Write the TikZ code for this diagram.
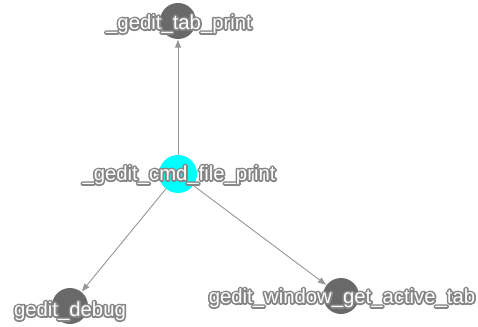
\documentclass[tikz,border=0pt]{standalone}
\usepackage{fontspec}
\setmainfont{Liberation Sans}
\usetikzlibrary{arrows.meta}
\definecolor{edgegray}{RGB}{150,150,150}
\definecolor{nodegray}{RGB}{105,105,105}
\definecolor{aqua}{RGB}{0,255,255}
\tikzset{
  vert/.style={circle, minimum size=36pt, inner sep=0pt, fill=nodegray},
  focus/.style={circle, minimum size=38pt, inner sep=0pt, fill=aqua},
  lbl/.style={font=\fontsize{20.3}{20}\selectfont, inner sep=0pt, text=white},
  conn/.style={draw=edgegray, line width=0.9pt, -{Triangle[length=8pt,width=6pt]}, shorten >=0.5pt}
}
\newcommand{\olab}[1]{\rlap{\special{pdf:code q 1 Tr 3.4 w 1 j 0.52 G}#1\special{pdf:code Q}}#1}
\begin{document}
\begin{tikzpicture}[x=1pt,y=-1pt]
\useasboundingbox (0,0) rectangle (478,326);
\node[vert] (tab) at (178,21) {};
\node[focus] (cmd) at (178,174) {};
\node[vert] (dbg) at (70,306) {};
\node[vert] (win) at (341,296) {};
\draw[conn] (cmd) -- (tab);
\draw[conn] (cmd) -- (dbg);
\draw[conn] (cmd) -- (win);
\node[lbl] (tabl) at (179,24) {\olab{\_gedit\_tab\_print}};
\node[lbl] (cmdl) at (179,175) {\olab{\_gedit\_cmd\_file\_print}};
\node[lbl] (dbgl) at (70,311) {\olab{gedit\_debug}};
\node[lbl] (winl) at (342,298) {\olab{gedit\_window\_get\_active\_tab}};
\end{tikzpicture}
\end{document}
